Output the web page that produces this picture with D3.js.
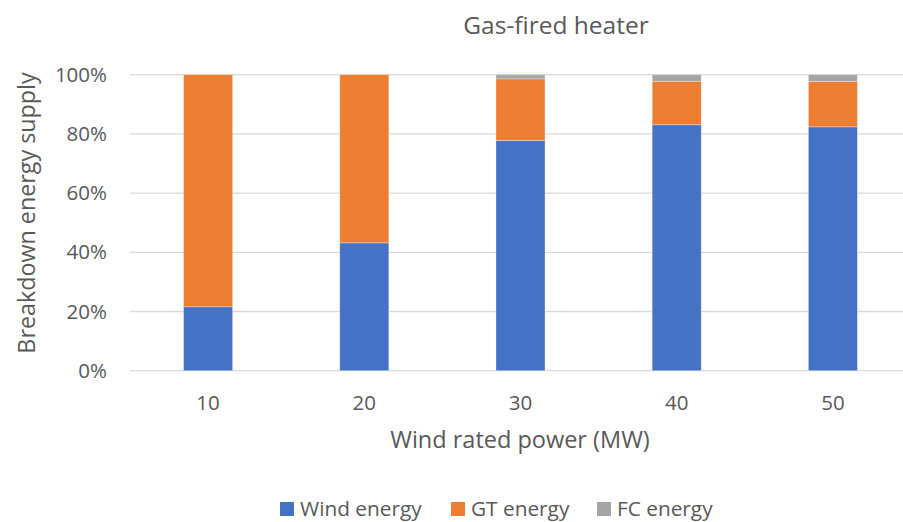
<!DOCTYPE html>
<html>
<head>
    <meta charset="utf-8">
    <title>Gas-fired heater</title>
    <script src="https://cdn.jsdelivr.net/npm/d3@7"></script>
    <style>
        body { margin: 0; background: #fff; }
        text { font-family: "Open Sans", sans-serif; fill: #595959; }
    </style>
</head>
<body>
    <svg width="903" height="522" id="mainsvg"></svg>
    <script>
        const categories = ['10', '20', '30', '40', '50'];
        const windEnergy = [0.216, 0.432, 0.778, 0.831, 0.824];
        const gtEnergy = [0.784, 0.568, 0.208, 0.147, 0.153];
        const fcEnergy = [0.000, 0.000, 0.014, 0.022, 0.023];
        const yTicks = [0, 0.2, 0.4, 0.6, 0.8, 1.0];
        const seriesNames = ['Wind energy', 'GT energy', 'FC energy'];
        const colors = ['#4472C4', '#ED7D31', '#A5A5A5'];

        const svg = d3.select('svg');
        const plotLeft = 130, plotRight = 911, plotTop = 74.7, plotBottom = 370.7;

        const data = categories.map((c, i) => ({
            cat: c, 'Wind energy': windEnergy[i], 'GT energy': gtEnergy[i], 'FC energy': fcEnergy[i]
        }));
        const stacked = d3.stack().keys(seriesNames)(data);

        const x = d3.scaleBand().domain(categories).range([plotLeft, plotRight])
            .paddingInner(0.686).paddingOuter(0.343);
        const y = d3.scaleLinear().domain([0, 1]).range([plotBottom, plotTop]);

        // gridlines
        svg.append('g').selectAll('line').data(yTicks).join('line')
            .attr('x1', plotLeft).attr('x2', plotRight)
            .attr('y1', d => y(d)).attr('y2', d => y(d))
            .attr('stroke', '#D9D9D9').attr('stroke-width', 1.3);

        // bars
        svg.append('g').selectAll('g').data(stacked).join('g')
            .attr('fill', (d, i) => colors[i])
            .selectAll('rect').data(d => d).join('rect')
            .attr('x', d => x(d.data.cat))
            .attr('width', x.bandwidth())
            .attr('y', d => y(d[1]))
            .attr('height', d => y(d[0]) - y(d[1]))
            .attr('stroke', '#fff').attr('stroke-opacity', 0.4).attr('stroke-width', 0.8);

        // y tick labels
        svg.append('g').selectAll('text').data(yTicks).join('text')
            .attr('x', 107).attr('y', d => y(d))
            .attr('dy', '0.35em').attr('text-anchor', 'end')
            .attr('font-size', 20.5)
            .text(d => d3.format('.0%')(d));

        // x tick labels
        svg.append('g').selectAll('text').data(categories).join('text')
            .attr('x', d => x(d) + x.bandwidth() / 2).attr('y', 403)
            .attr('dy', '0.35em').attr('text-anchor', 'middle')
            .attr('font-size', 20.5)
            .text(d => d);

        // titles
        svg.append('text').attr('x', 556).attr('y', 25).attr('dy', '0.35em')
            .attr('text-anchor', 'middle').attr('font-size', 24.5).text('Gas-fired heater');
        svg.append('text').attr('x', 520).attr('y', 440).attr('dy', '0.35em')
            .attr('text-anchor', 'middle').attr('font-size', 23.5).text('Wind rated power (MW)');
        svg.append('text').attr('transform', 'translate(27,213) rotate(-90)').attr('dy', '0.35em')
            .attr('text-anchor', 'middle').attr('font-size', 23.3).text('Breakdown energy supply');

        // legend
        const legendX = [280, 451, 597];
        const legend = svg.append('g').selectAll('g').data(seriesNames).join('g')
            .attr('transform', (d, i) => `translate(${legendX[i]},509)`);
        legend.append('rect').attr('x', 0).attr('y', -7).attr('width', 14).attr('height', 14)
            .attr('fill', (d, i) => colors[i]);
        legend.append('text').attr('x', 20).attr('dy', '0.35em')
            .attr('font-size', 20.8).text(d => d);
    </script>
</body>
</html>
